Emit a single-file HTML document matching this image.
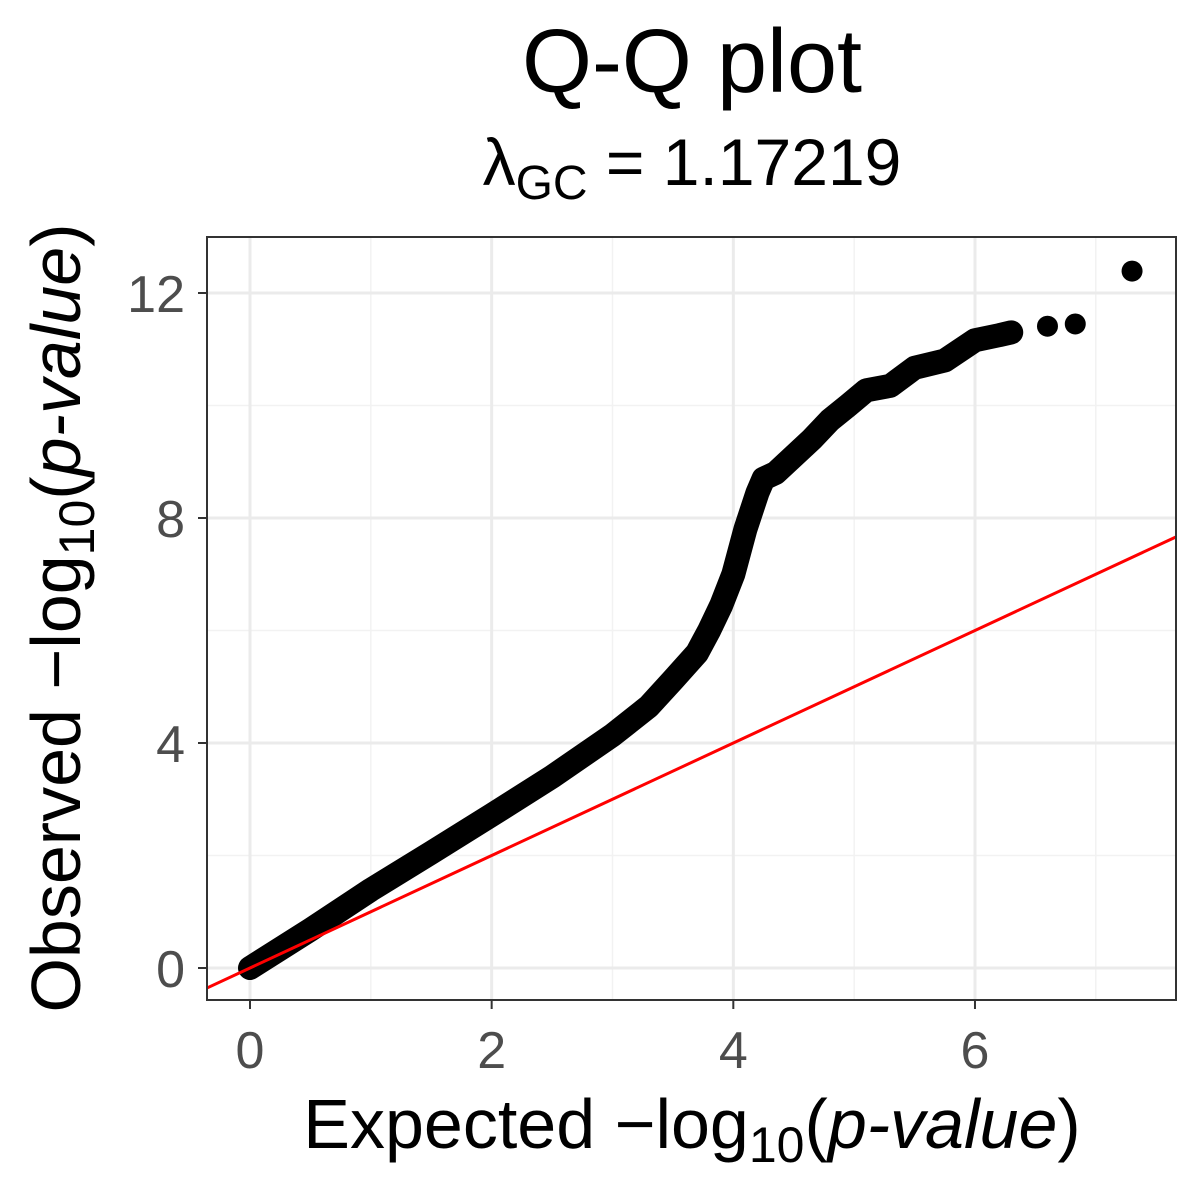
<!DOCTYPE html>
<html><head><meta charset="utf-8"><style>
html,body{margin:0;padding:0;background:#fff}
svg{display:block;font-family:"Liberation Sans",sans-serif}
</style></head><body>
<svg id="chart" width="1200" height="1200" viewBox="0 0 1200 1200">
<text x="692" y="92" font-size="90" text-anchor="middle">Q-Q plot</text>
<text x="692" y="185" font-size="66" text-anchor="middle">λ<tspan font-size="48" dy="14">GC</tspan><tspan dy="-14"> = 1.17219</tspan></text>
<g id="grid"></g>
<g id="marks"></g>
<rect x="207" y="237" width="969" height="763" fill="none" stroke="#333" stroke-width="2"/>
<g id="axes"></g>
<text x="692" y="1148" font-size="70" text-anchor="middle">Expected  −log<tspan font-size="50" dy="14">10</tspan><tspan dy="-14">(</tspan><tspan font-style="italic">p-value</tspan>)</text>
<text transform="translate(80,618) rotate(-90)" font-size="70" text-anchor="middle">Observed  −log<tspan font-size="50" dy="14">10</tspan><tspan dy="-14">(</tspan><tspan font-style="italic">p-value</tspan>)</text>
</svg>
<script>
const expected = [0,0.5,1,1.5,2,2.5,3,3.3,3.5,3.7,3.8,3.9,4.0,4.1,4.2,4.25,4.35,4.5,4.65,4.8,4.95,5.1,5.3,5.5,5.75,6.0,6.2,6.3];
const observed = [0,0.68,1.39,2.05,2.72,3.4,4.14,4.65,5.12,5.6,6.0,6.45,7.0,7.8,8.45,8.7,8.8,9.1,9.4,9.74,10.0,10.27,10.35,10.67,10.8,11.16,11.25,11.3];
const tailExpected = [6.6,6.83,7.3];
const tailObserved = [11.41,11.45,12.39];
const xTicks = [0,2,4,6];
const yTicks = [0,4,8,12];
const xMinor = [1,3,5,7];
const yMinor = [2,6,10];

const NS='http://www.w3.org/2000/svg';
const X0=207,X1=1176,Y0=237,Y1=1000;
const sx=v=>250+v*120.83;
const sy=v=>968-v*56.25;
function mk(tag,attrs,parent){const e=document.createElementNS(NS,tag);for(const k in attrs)e.setAttribute(k,attrs[k]);parent.appendChild(e);return e;}
const grid=document.getElementById('grid'),marks=document.getElementById('marks'),axes=document.getElementById('axes');
mk('rect',{x:X0,y:Y0,width:X1-X0,height:Y1-Y0,fill:'#fff'},grid);
xMinor.forEach(v=>{const l=mk('line',{x1:sx(v),x2:sx(v),y1:Y0,y2:Y1,stroke:'#f2f2f2','stroke-width':1.5},grid);

});
yMinor.forEach(v=>{const l=mk('line',{x1:X0,x2:X1,y1:sy(v),y2:sy(v),stroke:'#f2f2f2','stroke-width':1.5},grid);

});
xTicks.forEach(v=>{const l=mk('line',{x1:sx(v),x2:sx(v),y1:Y0,y2:Y1,stroke:'#ebebeb','stroke-width':3},grid);


const t=mk('line',{x1:sx(v),x2:sx(v),y1:Y1,y2:Y1+9,stroke:'#333','stroke-width':2},axes);


const tx=mk('text',{x:sx(v),y:1068,'font-size':52,fill:'#4d4d4d','text-anchor':'middle'},axes);tx.textContent=v;

});
yTicks.forEach(v=>{const l=mk('line',{x1:X0,x2:X1,y1:sy(v),y2:sy(v),stroke:'#ebebeb','stroke-width':3},grid);


const t=mk('line',{x1:X0-9,x2:X0,y1:sy(v),y2:sy(v),stroke:'#333','stroke-width':2},axes);


const tx=mk('text',{x:X0-22,y:sy(v)+19,'font-size':52,fill:'#4d4d4d','text-anchor':'end'},axes);tx.textContent=v;

});
const defs=mk('defs',{},marks);const cp=mk('clipPath',{id:'cp'},defs);mk('rect',{x:X0,y:Y0,width:X1-X0,height:Y1-Y0},cp);
const g=mk('g',{'clip-path':'url(#cp)'},marks);
let d='';expected.forEach((v,i)=>{d+=(i?'L':'M')+sx(v)+','+sy(observed[i]);});
const band=mk('path',{d:d,fill:'none',stroke:'#000','stroke-width':24,'stroke-linejoin':'round','stroke-linecap':'round'},g);


expected.forEach((v,i)=>{const c=mk('circle',{cx:sx(v),cy:sy(observed[i]),r:11,fill:'#000'},g);

});
tailExpected.forEach((v,i)=>{const c=mk('circle',{cx:sx(v),cy:sy(tailObserved[i]),r:10.5,fill:'#000'},g);

});
const rl=mk('line',{x1:sx(-1),y1:sy(-1),x2:sx(8),y2:sy(8),stroke:'#ff0000','stroke-width':3},g);


</script>
</body></html>
